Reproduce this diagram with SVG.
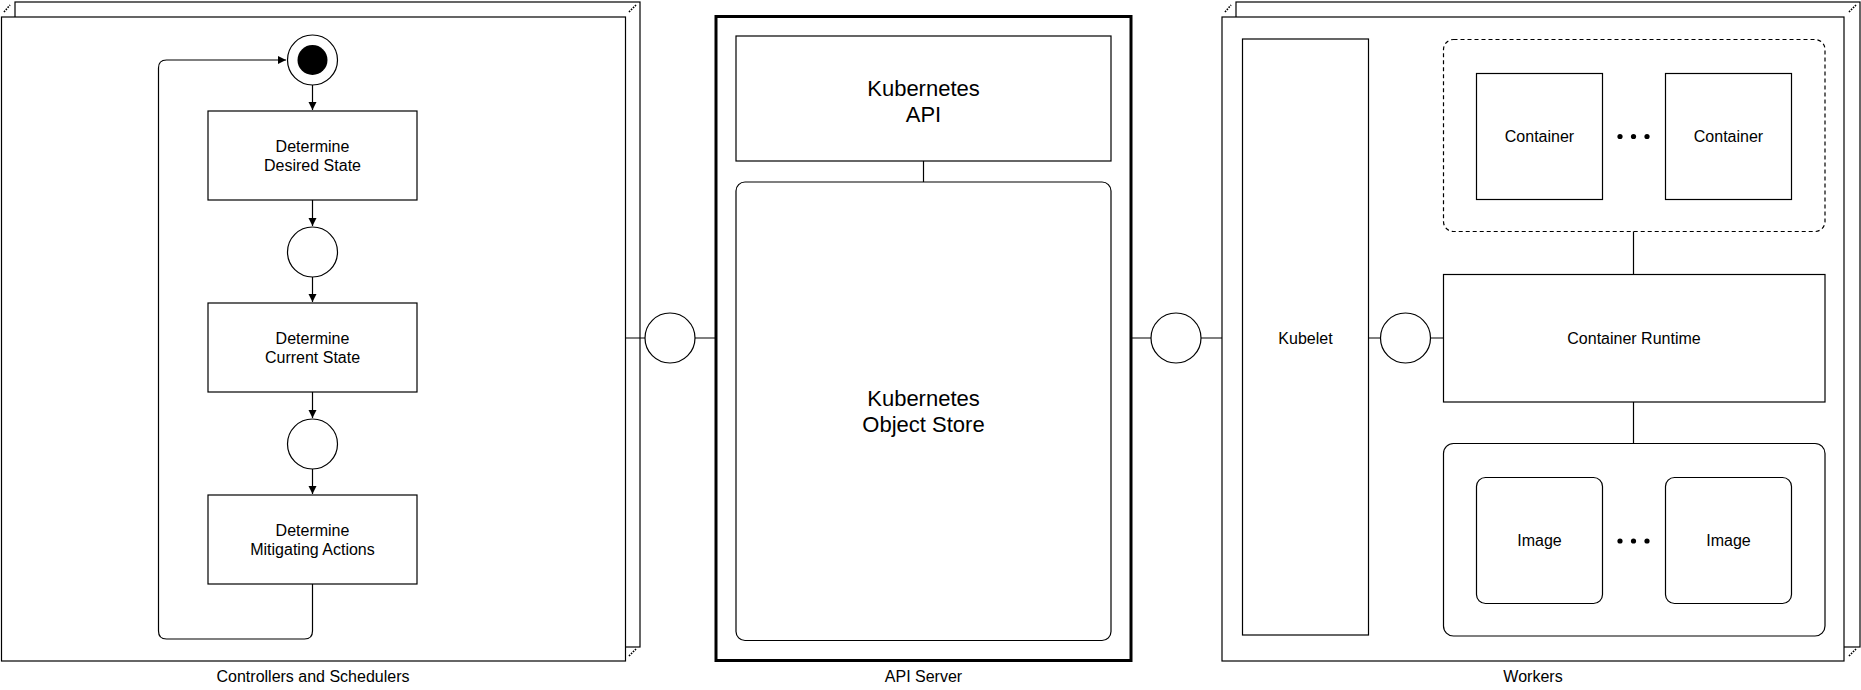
<svg xmlns="http://www.w3.org/2000/svg" width="1861" height="690" viewBox="0 0 1861 690">
<defs>
<marker id="arr" markerWidth="10" markerHeight="10" refX="9" refY="5" orient="auto" markerUnits="userSpaceOnUse">
<path d="M1,1 L9,5 L1,9 Z" fill="#000"/>
</marker>
<style>
.b{fill:#fff;stroke:#000;stroke-width:1.2}
.l{fill:none;stroke:#000;stroke-width:1.2}
.t{font-family:"Liberation Sans",Arial,sans-serif;font-size:16px;fill:#000;text-anchor:middle}
.big{font-size:22px}
.mk{fill:none;stroke:#000;stroke-width:1.6;stroke-dasharray:1.6,1.2}
</style>
</defs>
<rect width="1861" height="690" fill="#fff"/>

<g id="controllers">
<rect class="b" x="15" y="2" width="625" height="645"/>
<rect class="b" x="1.5" y="17" width="624" height="644"/>
<path class="mk" d="M4,12 L10,5 M629,12 L636,5 M629,656 L636,649"/>
<text class="t" x="313" y="682">Controllers and Schedulers</text>
</g>

<g id="start">
<circle class="b" cx="312.5" cy="60" r="25"/>
<circle cx="312.5" cy="60" r="15" fill="#000"/>
</g>
<g id="desired">
<rect class="b" x="208" y="111" width="209" height="89"/>
<text class="t" x="312.5" y="152">Determine</text>
<text class="t" x="312.5" y="171">Desired State</text>
</g>
<g id="junction1"><circle class="b" cx="312.5" cy="252" r="25"/></g>
<g id="current">
<rect class="b" x="208" y="303" width="209" height="89"/>
<text class="t" x="312.5" y="344">Determine</text>
<text class="t" x="312.5" y="363">Current State</text>
</g>
<g id="junction2"><circle class="b" cx="312.5" cy="444" r="25"/></g>
<g id="mitigating">
<rect class="b" x="208" y="495" width="209" height="89"/>
<text class="t" x="312.5" y="536">Determine</text>
<text class="t" x="312.5" y="555">Mitigating Actions</text>
</g>

<g id="apiserver">
<rect x="716" y="16.5" width="415" height="644" fill="#fff" stroke="#000" stroke-width="3"/>
<text class="t" x="923.5" y="682">API Server</text>
</g>
<g id="k8sapi">
<rect class="b" x="736" y="36" width="375" height="125"/>
<text class="t big" x="923.5" y="96">Kubernetes</text>
<text class="t big" x="923.5" y="122">API</text>
</g>
<g id="objectstore">
<rect class="b" x="736" y="182" width="375" height="458.5" rx="9"/>
<text class="t big" x="923.5" y="406">Kubernetes</text>
<text class="t big" x="923.5" y="432">Object Store</text>
</g>

<g id="workers">
<rect class="b" x="1236" y="2" width="624" height="645"/>
<rect class="b" x="1222" y="17" width="622" height="644"/>
<path class="mk" d="M1225,12 L1231,5 M1849,12 L1856,5 M1849,656 L1856,649"/>
<text class="t" x="1533" y="682">Workers</text>
</g>
<g id="kubelet">
<rect class="b" x="1242.5" y="39" width="126" height="596"/>
<text class="t" x="1305.5" y="344">Kubelet</text>
</g>
<g id="pod">
<rect x="1443.5" y="39.5" width="381.5" height="192" rx="10" fill="#fff" stroke="#000" stroke-width="1.2" stroke-dasharray="4,3"/>
</g>
<g id="container1">
<rect class="b" x="1476.5" y="73.5" width="126" height="126"/>
<text class="t" x="1539.5" y="142">Container</text>
</g>
<g id="container-dots">
<circle cx="1620" cy="136.5" r="2.6"/><circle cx="1633.5" cy="136.5" r="2.6"/><circle cx="1647" cy="136.5" r="2.6"/>
</g>
<g id="container2">
<rect class="b" x="1665.5" y="73.5" width="126" height="126"/>
<text class="t" x="1728.5" y="142">Container</text>
</g>
<g id="runtime">
<rect class="b" x="1443.5" y="274.5" width="381.5" height="127.5"/>
<text class="t" x="1634" y="344">Container Runtime</text>
</g>
<g id="images">
<rect class="b" x="1443.5" y="443.5" width="381.5" height="192.5" rx="10"/>
</g>
<g id="image1">
<rect class="b" x="1476.5" y="477.5" width="126" height="126" rx="9"/>
<text class="t" x="1539.5" y="546">Image</text>
</g>
<g id="image-dots">
<circle cx="1620" cy="541" r="2.6"/><circle cx="1633.5" cy="541" r="2.6"/><circle cx="1647" cy="541" r="2.6"/>
</g>
<g id="image2">
<rect class="b" x="1665.5" y="477.5" width="126" height="126" rx="9"/>
<text class="t" x="1728.5" y="546">Image</text>
</g>

<g id="iface1"><circle class="b" cx="670" cy="338" r="25"/></g>
<g id="iface2"><circle class="b" cx="1176" cy="338" r="25"/></g>
<g id="iface3"><circle class="b" cx="1405.5" cy="338" r="25"/></g>

<g id="connectors">
<path class="l" d="M312.5,85 V110" marker-end="url(#arr)"/>
<path class="l" d="M312.5,200 V226" marker-end="url(#arr)"/>
<path class="l" d="M312.5,277 V302" marker-end="url(#arr)"/>
<path class="l" d="M312.5,392 V418" marker-end="url(#arr)"/>
<path class="l" d="M312.5,469 V494" marker-end="url(#arr)"/>
<path class="l" d="M312.5,584 V631 Q312.5,639 304.5,639 H166.5 Q158.5,639 158.5,631 V68 Q158.5,60 166.5,60 H286" marker-end="url(#arr)"/>
<path class="l" d="M625.5,338 H645 M695,338 H716"/>
<path class="l" d="M1131,338 H1151 M1201,338 H1222"/>
<path class="l" d="M1368.5,338 H1380.5 M1430.5,338 H1443.5"/>
<path class="l" d="M923.5,161 V182"/>
<path class="l" d="M1633.5,231.5 V274.5"/>
<path class="l" d="M1633.5,402 V443.5"/>
</g>
</svg>
